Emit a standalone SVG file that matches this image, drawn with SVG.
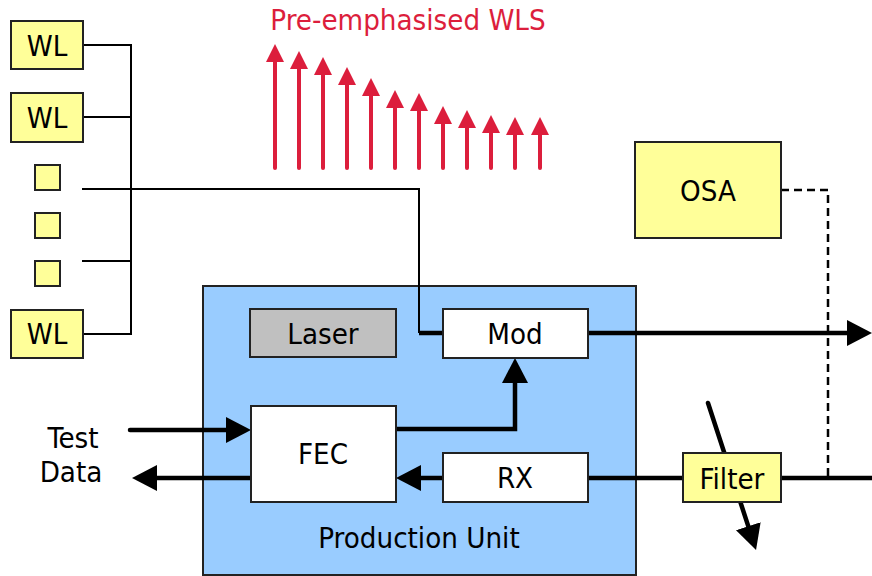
<svg xmlns="http://www.w3.org/2000/svg" width="872" height="576" viewBox="0 0 872 576">
<style>
text{font-family:"DejaVu Sans Condensed","DejaVu Sans","Verdana",sans-serif;font-stretch:condensed;font-size:29.2px;fill:#000;text-anchor:middle}
.y{fill:#FFFF99;stroke:#222;stroke-width:2}
.w{fill:#FFFFFF;stroke:#222;stroke-width:2}
.thin{fill:none;stroke:#000;stroke-width:2}
.thick{fill:none;stroke:#000;stroke-width:4.5}
.dash{fill:none;stroke:#000;stroke-width:2.5;stroke-dasharray:8,5}
.red{stroke:#DC1E3C;stroke-width:4;stroke-linecap:round;fill:none}
</style>
<defs>
<marker id="ah" markerUnits="userSpaceOnUse" markerWidth="26" markerHeight="26" refX="12" refY="13" orient="auto" viewBox="0 0 26 26">
<path d="M0,0 L25,13 L0,26 z" fill="#000"/>
</marker>
<marker id="rh" markerUnits="userSpaceOnUse" markerWidth="18" markerHeight="18" refX="8" refY="9" orient="auto" viewBox="0 0 18 18">
<path d="M0,0 L18,9 L0,18 z" fill="#DC1E3C"/>
</marker>
</defs>
<rect width="872" height="576" fill="#fff"/>

<g id="production-unit">
<rect x="203" y="286" width="433" height="289" fill="#99CCFF" stroke="#222" stroke-width="2"/>
<text x="419" y="548">Production Unit</text>
</g>

<g id="wls-title">
<text x="408" y="30" style="fill:#DC1E3C">Pre-emphasised WLS</text>
</g>

<g id="wls-arrows">
<line class="red" x1="275" y1="168" x2="275" y2="54" marker-end="url(#rh)"/>
<line class="red" x1="299" y1="168" x2="299" y2="61" marker-end="url(#rh)"/>
<line class="red" x1="323" y1="168" x2="323" y2="67" marker-end="url(#rh)"/>
<line class="red" x1="347" y1="168" x2="347" y2="77" marker-end="url(#rh)"/>
<line class="red" x1="371" y1="168" x2="371" y2="88" marker-end="url(#rh)"/>
<line class="red" x1="395" y1="168" x2="395" y2="100" marker-end="url(#rh)"/>
<line class="red" x1="419" y1="168" x2="419" y2="103" marker-end="url(#rh)"/>
<line class="red" x1="443" y1="168" x2="443" y2="116" marker-end="url(#rh)"/>
<line class="red" x1="467" y1="168" x2="467" y2="120" marker-end="url(#rh)"/>
<line class="red" x1="491" y1="168" x2="491" y2="125" marker-end="url(#rh)"/>
<line class="red" x1="515" y1="168" x2="515" y2="127" marker-end="url(#rh)"/>
<line class="red" x1="540" y1="168" x2="540" y2="127" marker-end="url(#rh)"/>
</g>

<g id="connectors">
<line class="thin" x1="131" y1="44" x2="131" y2="335"/>
<line class="thin" x1="83" y1="45" x2="131" y2="45"/>
<line class="thin" x1="83" y1="117" x2="131" y2="117"/>
<line class="thin" x1="82" y1="261" x2="131" y2="261"/>
<line class="thin" x1="83" y1="334" x2="131" y2="334"/>
<path class="thin" d="M82,189 H419 V333"/>
<line class="thick" x1="419" y1="333" x2="443" y2="333"/>
<line class="thick" x1="588" y1="333" x2="859" y2="333" marker-end="url(#ah)"/>
<path class="thick" d="M396,429 H515 V371" marker-end="url(#ah)"/>
<line class="thick" x1="130" y1="430" x2="238" y2="430" marker-end="url(#ah)" stroke-linecap="round"/>
<line class="thick" x1="252" y1="478" x2="145" y2="478" marker-end="url(#ah)"/>
<line class="thick" x1="872" y1="478" x2="588" y2="478"/>
<line class="thick" x1="443" y1="478" x2="409" y2="478" marker-end="url(#ah)"/>
<line class="thick" x1="708" y1="403" x2="752" y2="537.6" marker-end="url(#ah)" stroke-linecap="round"/>
<path class="dash" d="M781,190 H828 V478"/>
</g>

<g id="wl1"><rect class="y" x="11" y="21" width="72" height="48"/><text x="47" y="56">WL</text></g>
<g id="wl2"><rect class="y" x="11" y="93" width="72" height="49"/><text x="47" y="128">WL</text></g>
<g id="sq1"><rect class="y" x="35" y="165" width="25" height="25"/></g>
<g id="sq2"><rect class="y" x="35" y="213" width="25" height="25"/></g>
<g id="sq3"><rect class="y" x="35" y="261" width="25" height="25"/></g>
<g id="wl3"><rect class="y" x="11" y="310" width="72" height="48"/><text x="47" y="344">WL</text></g>

<g id="osa"><rect class="y" x="635" y="142" width="146" height="96"/><text x="708" y="201">OSA</text></g>
<g id="laser"><rect x="250" y="309" width="146" height="48" fill="#C0C0C0" stroke="#222" stroke-width="2"/><text x="323" y="344">Laser</text></g>
<g id="mod"><rect class="w" x="443" y="309" width="145" height="49"/><text x="515" y="344">Mod</text></g>
<g id="fec"><rect class="w" x="251" y="406" width="145" height="96"/><text x="323" y="464">FEC</text></g>
<g id="rx"><rect class="w" x="443" y="453" width="145" height="49"/><text x="515" y="488">RX</text></g>
<g id="filter"><rect class="y" x="683" y="453" width="98" height="49"/><text x="732" y="489">Filter</text></g>
<g id="test-data"><text x="73" y="448">Test</text><text x="71" y="482">Data</text></g>
</svg>
